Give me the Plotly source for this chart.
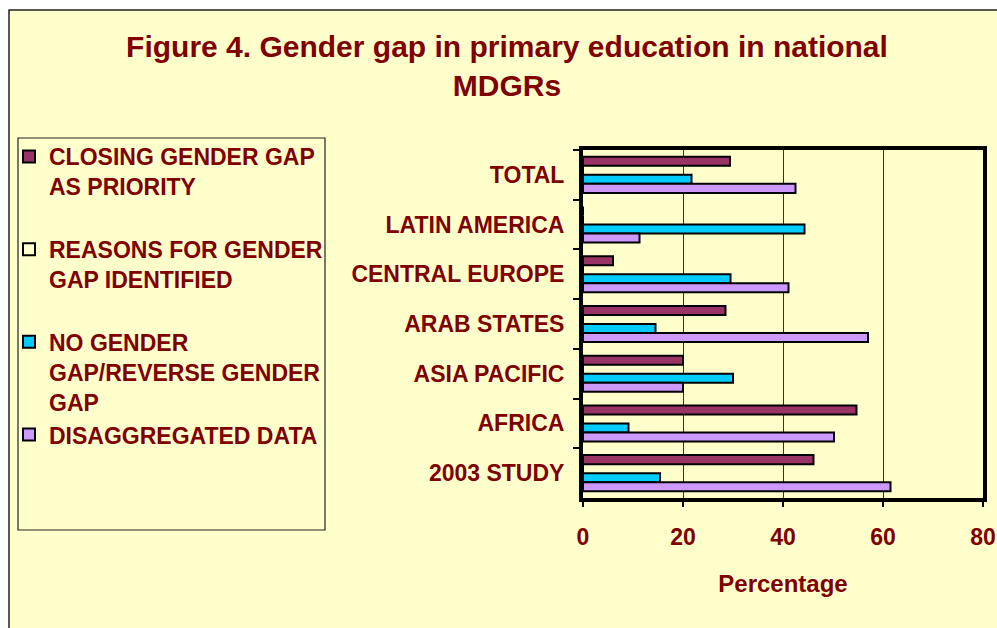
import plotly.graph_objects as go

categories = ["TOTAL", "LATIN AMERICA", "CENTRAL EUROPE", "ARAB STATES",
              "ASIA PACIFIC", "AFRICA", "2003 STUDY"]
closing_gap = [29.4, 0, 6, 28.5, 20, 54.7, 46.1]
reasons_identified = [0, 0, 0, 0, 0, 0, 0]
no_gap_reverse = [21.7, 44.3, 29.5, 14.5, 30, 9.1, 15.4]
disaggregated = [42.5, 11.3, 41.1, 57, 20, 50.2, 61.5]

series_names = [
    "CLOSING GENDER GAP<br>AS PRIORITY<br> ",
    "REASONS FOR GENDER<br>GAP IDENTIFIED<br> ",
    "NO GENDER<br>GAP/REVERSE GENDER<br>GAP",
    "DISAGGREGATED DATA",
]
series_values = [closing_gap, reasons_identified, no_gap_reverse, disaggregated]
series_colors = ["#993366", "#FFFFCC", "#00CCFF", "#CC99FF"]
x_ticks = [0, 20, 40, 60, 80]

DARKRED = "#800000"
FONT = "Liberation Sans"
BG = "#FFFFCC"

W, H = 997, 628
L, R, T, B = 583, 14, 150, 130
PW, PH = W - L - R, H - T - B


def px_x(px):
    return (px - L) / PW


def px_y(py):
    return (H - B - py) / PH


fig = go.Figure()
for name, vals, col in zip(series_names, series_values, series_colors):
    fig.add_trace(go.Bar(
        y=categories, x=vals, name=name, orientation="h",
        marker=dict(color=col, line=dict(color="black", width=2)),
    ))

fig.update_layout(
    width=W, height=H,
    margin=dict(l=L, r=R, t=T, b=B, autoexpand=False),
    paper_bgcolor="white",
    plot_bgcolor=BG,
    barmode="group",
    bargap=0.275,
    bargroupgap=0,
    font=dict(family=FONT, color=DARKRED, weight="bold"),
    title=dict(
        text="Figure 4. Gender gap in primary education in national<br>MDGRs",
        x=507 / W, xanchor="center", xref="container",
        y=1 - 57 / H, yanchor="top", yref="container",
        font=dict(family=FONT, size=30, color=DARKRED, weight="bold"),
    ),
    legend=dict(
        xref="container", yref="container",
        x=9 / W, xanchor="left",
        y=1 - 135 / H, yanchor="top",
        maxheight=600,
        bgcolor="rgba(0,0,0,0)", borderwidth=0,
        traceorder="normal", valign="top",
        font=dict(family=FONT, size=23, color=DARKRED, weight="bold"),
    ),
    showlegend=True,
)

fig.update_xaxes(
    range=[0, 80], tickvals=x_ticks, ticktext=[str(v) for v in x_ticks],
    showgrid=True, gridcolor="#333333", gridwidth=1,
    zeroline=False,
    showline=True, linecolor="black", linewidth=4, mirror=True,
    ticks="outside", ticklen=5, tickcolor="black", tickwidth=1.5,
    ticklabelstandoff=10,
    tickfont=dict(family=FONT, size=23, color=DARKRED, weight="bold"),
    title=dict(text="Percentage", standoff=28,
               font=dict(family=FONT, size=24, color=DARKRED, weight="bold")),
    automargin=False,
)
fig.update_yaxes(
    categoryorder="array", categoryarray=categories, autorange="reversed",
    showgrid=False, zeroline=False,
    showline=True, linecolor="black", linewidth=4, mirror=True,
    ticks="outside", ticklen=6, tickcolor="black", tickwidth=1.5,
    tickson="boundaries", ticklabelstandoff=10,
    tickfont=dict(family=FONT, size=23, color=DARKRED, weight="bold"),
    automargin=False,
)

# outer chart frame
fig.add_shape(type="rect", xref="paper", yref="paper",
              x0=px_x(9), x1=px_x(1020), y0=px_y(650), y1=px_y(10),
              fillcolor=BG, line=dict(color="#222222", width=1.5), layer="below")
# legend box
fig.add_shape(type="rect", xref="paper", yref="paper",
              x0=px_x(18), x1=px_x(325), y0=px_y(530), y1=px_y(138),
              fillcolor=BG, line=dict(color="#222222", width=1.2), layer="below")

fig.write_html(
    "out.html",
    config={"displayModeBar": False},
    post_script="document.body.style.margin='0';document.body.style.overflow='hidden';",
)
